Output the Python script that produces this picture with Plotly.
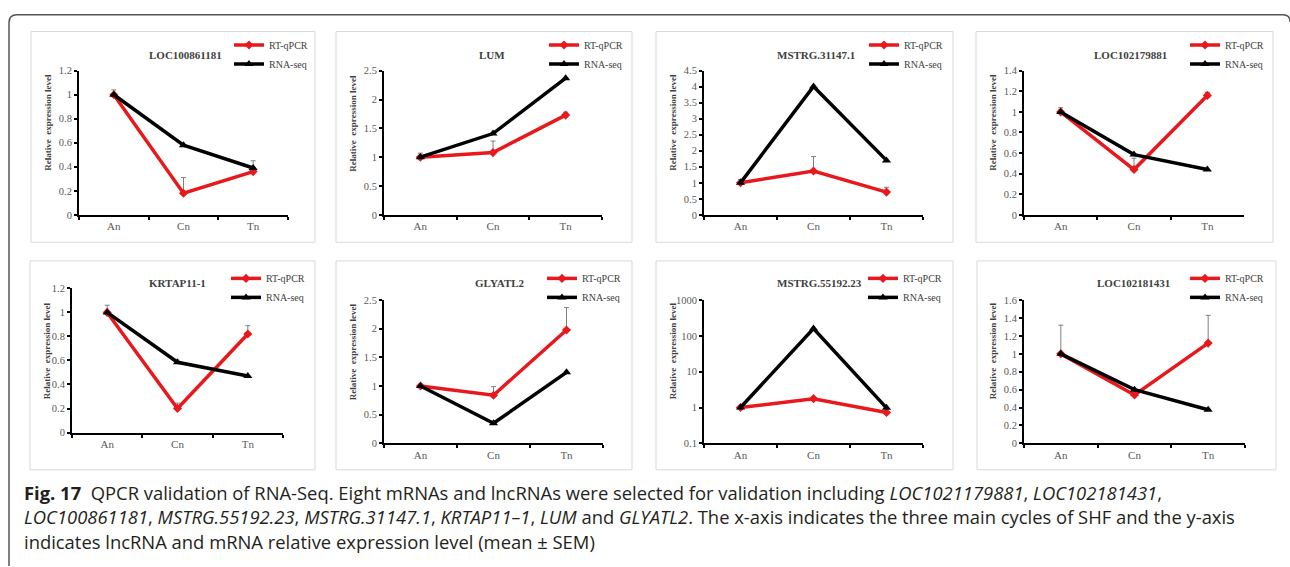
import plotly.graph_objects as go

W, H = 1290, 567

stages = ["An", "Cn", "Tn"]
genes = ["LOC100861181", "LUM", "MSTRG.31147.1", "LOC102179881",
         "KRTAP11-1", "GLYATL2", "MSTRG.55192.23", "LOC102181431"]
series_names = ["RT-qPCR", "RNA-seq"]

qpcr_LOC100861181 = [1.0, 0.18, 0.36]
seq_LOC100861181 = [1.0, 0.58, 0.39]
err_LOC100861181 = [0.04, 0.13, 0.09]

qpcr_LUM = [1.0, 1.08, 1.73]
seq_LUM = [1.0, 1.41, 2.37]
err_LUM = [0.07, 0.20, 0.05]

qpcr_MSTRG31147 = [1.0, 1.37, 0.71]
seq_MSTRG31147 = [1.0, 4.01, 1.70]
err_MSTRG31147 = [0.10, 0.45, 0.15]

qpcr_LOC102179881 = [1.0, 0.44, 1.16]
seq_LOC102179881 = [1.0, 0.585, 0.44]
err_LOC102179881 = [0.04, 0.11, 0.03]

qpcr_KRTAP11 = [1.0, 0.20, 0.82]
seq_KRTAP11 = [1.0, 0.585, 0.47]
err_KRTAP11 = [0.06, 0.045, 0.07]

qpcr_GLYATL2 = [1.0, 0.84, 1.98]
seq_GLYATL2 = [1.0, 0.35, 1.24]
err_GLYATL2 = [0.03, 0.15, 0.39]

qpcr_MSTRG55192 = [1.0, 1.77, 0.73]
seq_MSTRG55192 = [1.0, 161.0, 0.98]
err_MSTRG55192 = [0.0, 0.0, 0.0]

qpcr_LOC102181431 = [1.0, 0.54, 1.12]
seq_LOC102181431 = [1.0, 0.60, 0.375]
err_LOC102181431 = [0.32, 0.0, 0.31]

qpcr_all = [qpcr_LOC100861181, qpcr_LUM, qpcr_MSTRG31147, qpcr_LOC102179881,
            qpcr_KRTAP11, qpcr_GLYATL2, qpcr_MSTRG55192, qpcr_LOC102181431]
seq_all = [seq_LOC100861181, seq_LUM, seq_MSTRG31147, seq_LOC102179881,
           seq_KRTAP11, seq_GLYATL2, seq_MSTRG55192, seq_LOC102181431]
err_all = [err_LOC100861181, err_LUM, err_MSTRG31147, err_LOC102179881,
           err_KRTAP11, err_GLYATL2, err_MSTRG55192, err_LOC102181431]

y_max = [1.2, 2.5, 4.5, 1.4, 1.2, 2.5, None, 1.6]
y_dtick = [0.2, 0.5, 0.5, 0.2, 0.2, 0.5, None, 0.2]
log_ticks = [0.1, 1, 10, 100, 1000]
log_ticktext = ["0.1", "1", "10", "100", "1000"]

# layout (pixels)
plot_px = [(79, 288, 67, 214), (384, 602, 67, 214), (704, 923, 67, 214), (1024, 1244, 67, 214),
           (72, 283, 289, 436), (384, 603, 301, 447), (704, 923, 301, 447), (1024, 1245, 301, 447)]
box_px = [(31, 315, 27, 242), (336, 632, 27, 242), (656, 953, 27, 242), (976, 1273, 27, 242),
          (30, 315, 261, 474), (336, 632, 261, 474), (656, 953, 261, 474), (977, 1276, 261, 474)]
title_px = [(185, 51), (492, 51), (816, 51), (1130, 51),
            (177, 284), (500, 284), (819, 284), (1133, 284)]
ylab_px = [(48, 120), (353, 120), (673, 120), (993, 120),
           (47, 353), (353, 353), (673, 353), (993, 353)]
legend_px = [(229, 26), (544, 26), (864, 26), (1185, 26),
             (226, 264), (542, 264), (863, 264), (1185, 264)]

RED = "#e8191c"
SERIF = "Liberation Serif"
GREY_TXT = "#595959"

px = lambda x: x / W
py = lambda y: 1 - y / H


def serif_label(s):
    return f"<span style='font-family:Liberation Serif,Times New Roman,serif'>{s}</span>"


fig = go.Figure()
shapes = []
annotations = []

for i in range(8):
    n = i + 1
    xa = "x" if n == 1 else f"x{n}"
    ya = "y" if n == 1 else f"y{n}"
    lg = "legend" if n == 1 else f"legend{n}"
    fig.add_trace(go.Scatter(
        x=stages, y=qpcr_all[i], name=serif_label(series_names[0]), mode="lines+markers",
        line=dict(color=RED, width=3.5), marker=dict(symbol="diamond", size=7, color=RED),
        error_y=dict(type="data", symmetric=False, array=err_all[i], arrayminus=[0, 0, 0],
                     color="#7f7f7f", thickness=1, width=2.5, visible=True),
        xaxis=xa, yaxis=ya, legend=lg, showlegend=True))
    fig.add_trace(go.Scatter(
        x=stages, y=seq_all[i], name=serif_label(series_names[1]), mode="lines+markers",
        line=dict(color="black", width=3.5), marker=dict(symbol="triangle-up", size=8, color="black"),
        xaxis=xa, yaxis=ya, legend=lg, showlegend=True))

    l, r, t, b = plot_px[i]
    xkey = "xaxis" if n == 1 else f"xaxis{n}"
    ykey = "yaxis" if n == 1 else f"yaxis{n}"
    xaxis = dict(domain=[px(l), px(r)], anchor=ya, type="category", categoryorder="array",
                 categoryarray=stages, range=[-0.5, 2.5], tickson="boundaries",
                 showline=True, linecolor="black", linewidth=2, ticks="outside", ticklen=3,
                 tickwidth=2, tickcolor="black", showgrid=False, zeroline=False,
                 tickfont=dict(family=SERIF, size=11, color=GREY_TXT), fixedrange=True)
    if y_max[i] is None:
        yaxis = dict(domain=[py(b), py(t)], anchor=xa, type="log", range=[-1, 3],
                     tickvals=log_ticks, ticktext=log_ticktext)
    else:
        yaxis = dict(domain=[py(b), py(t)], anchor=xa, range=[0, y_max[i]], dtick=y_dtick[i], tick0=0)
    yaxis.update(showline=True, linecolor="black", linewidth=2, ticks="outside", ticklen=3,
                 tickwidth=2, tickcolor="black", showgrid=False, zeroline=False,
                 tickfont=dict(family=SERIF, size=10.5, color=GREY_TXT), fixedrange=True)
    fig.update_layout({xkey: xaxis, ykey: yaxis})

    bl, br, bt, bb = box_px[i]
    shapes.append(dict(type="rect", xref="paper", yref="paper", x0=px(bl), x1=px(br),
                       y0=py(bb), y1=py(bt), line=dict(color="#d9d9d9", width=1), layer="below"))
    tx, ty = title_px[i]
    annotations.append(dict(text=f"<b>{genes[i]}</b>", x=px(tx), y=py(ty), xref="paper", yref="paper",
                            showarrow=False, xanchor="center", yanchor="middle",
                            font=dict(family=SERIF, size=11, color="#404040")))
    lx, ly = ylab_px[i]
    annotations.append(dict(text="<b>Relative  expression level</b>", x=px(lx), y=py(ly),
                            xref="paper", yref="paper", showarrow=False, textangle=-90,
                            xanchor="center", yanchor="middle",
                            font=dict(family=SERIF, size=9, color="#404040")))
    gx, gy = legend_px[i]
    fig.update_layout({lg: dict(x=px(gx), y=py(gy), xanchor="left", yanchor="top",
                                bgcolor="rgba(0,0,0,0)", borderwidth=0, itemwidth=30,
                                font=dict(family=SERIF, size=10, color="#404040"),
                                tracegroupgap=0, itemclick=False, itemdoubleclick=False)})

# outer rounded frame
x0, y0, rr = 9, 10, 8
path = (f"M {px(x0)},{py(H + 5)} L {px(x0)},{py(y0 + rr)} "
        f"Q {px(x0)},{py(y0)} {px(x0 + rr)},{py(y0)} "
        f"L {px(1283)},{py(y0)} Q {px(1290)},{py(y0)} {px(1290)},{py(y0 + 7)}")
shapes.append(dict(type="path", path=path, xref="paper", yref="paper",
                   line=dict(color="#555555", width=1.5)))

CAP = "Open Sans"
cap_lines = [
    "<b>Fig. 17</b>  QPCR validation of RNA-Seq. Eight mRNAs and lncRNAs were selected for validation including "
    "<i>LOC1021179881</i>, <i>LOC102181431</i>,",
    "<i>LOC100861181</i>, <i>MSTRG.55192.23</i>, <i>MSTRG.31147.1</i>, <i>KRTAP11–1</i>, <i>LUM</i> and "
    "<i>GLYATL2</i>. The x-axis indicates the three main cycles of SHF and the y-axis",
    "indicates lncRNA and mRNA relative expression level (mean ± SEM)",
]
for k, s in enumerate(cap_lines):
    annotations.append(dict(text=s, x=px(22), y=py(497 + 25 * k), xref="paper", yref="paper",
                            showarrow=False, xanchor="left", yanchor="middle",
                            font=dict(family=CAP, size=18.4, color="#231f20")))

fig.update_layout(width=W, height=H, margin=dict(l=0, r=0, t=0, b=0),
                  paper_bgcolor="white", plot_bgcolor="white",
                  font=dict(family=SERIF, color="#404040"),
                  shapes=shapes, annotations=annotations)

fig.write_html("out.html", config={"displayModeBar": False})
